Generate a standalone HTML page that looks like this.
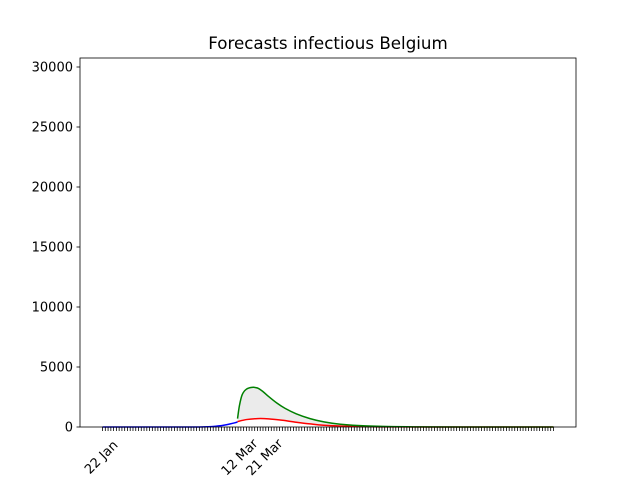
<!DOCTYPE html>
<html><head><meta charset="utf-8"><style>
body{margin:0;background:#fff}
svg{font-family:"DejaVu Sans","Liberation Sans",sans-serif}
</style></head><body>
<svg id="chart" width="640" height="480" viewBox="0 0 640 480">
<rect width="640" height="480" fill="#fff"/>
<text x="328" y="49" font-size="16.7" text-anchor="middle">Forecasts infectious Belgium</text>
<g id="plot"></g>
<rect x="80" y="58" width="496" height="369" fill="none" stroke="#000" stroke-width="0.8"/>
</svg>
<script>
const blueDays=[0,10,20,30,35,38,40,42,44,46,48,48.8];
const blueVals=[0,0,0,0,5,20,40,90,160,250,360,420];
const greenDays=[48.8,49.5,50.5,52,54,56,58,60,63,66,70,75,80,86,95,110,130,163];
const greenVals=[700,1800,2700,3150,3300,3250,2950,2550,2000,1550,1100,700,430,230,90,20,5,0];
const redDays=[48.8,52,56,60,65,70,75,80,90,100,120,163];
const redVals=[450,620,700,680,560,400,260,150,50,15,3,0];
const yTicks=[0,5000,10000,15000,20000,25000,30000];
const xLabels=[[0,"22 Jan"],[50,"12 Mar"],[59,"21 Mar"]];
const nDays=163;
const X0=80,X1=576,Y0=427,Y1=58,xmin=-8.15,xmax=171.15,ymin=0,ymax=30750;
const sx=d=>X0+(d-xmin)/(xmax-xmin)*(X1-X0);
const sy=v=>Y0-(v-ymin)/(ymax-ymin)*(Y0-Y1);
const NS="http://www.w3.org/2000/svg";
const g=document.getElementById('plot');
function el(t,a){const e=document.createElementNS(NS,t);for(const k in a)e.setAttribute(k,a[k]);g.appendChild(e);return e;}
function pts(ds,vs){return ds.map((d,i)=>[sx(d),sy(vs[i])]);}
function smooth(p){let s="M"+p[0][0]+","+p[0][1];for(let i=0;i<p.length-1;i++){const a=p[i-1]||p[i],b=p[i],c=p[i+1],d=p[i+2]||c;
s+=" C"+(b[0]+(c[0]-a[0])/6)+","+(b[1]+(c[1]-a[1])/6)+" "+(c[0]-(d[0]-b[0])/6)+","+(c[1]-(d[1]-b[1])/6)+" "+c[0]+","+c[1];}return s;}
const gp=pts(greenDays,greenVals),rp=pts(redDays,redVals).reverse();
const fill=el('path',{d:smooth(gp)+" L"+rp[0][0]+","+rp[0][1]+smooth(rp).replace(/^M[^ C]+/,"")+" Z",fill:"#ebebeb",stroke:"none"});


const b=el('path',{d:smooth(pts(blueDays,blueVals)),fill:"none",stroke:"#0000ff","stroke-width":1.5});


const r=el('path',{d:smooth(pts(redDays,redVals)),fill:"none",stroke:"#ff0000","stroke-width":1.5});


const gr=el('path',{d:smooth(gp),fill:"none",stroke:"#008000","stroke-width":1.5});


yTicks.forEach(v=>{const y=sy(v);
const t=el('line',{x1:76.5,x2:80,y1:y,y2:y,stroke:"#000","stroke-width":0.8});


const l=el('text',{x:73,y:y+4.5,"font-size":13,"text-anchor":"end"});l.textContent=v;

});
for(let d=0;d<=nDays;d++){const x=sx(d);
const t=el('line',{x1:x,x2:x,y1:427,y2:431,stroke:"#000","stroke-width":0.8});

}
xLabels.forEach(([d,s])=>{const x=sx(d)-1.5,y=457;
const l=el('text',{x:x,y:y+4.5,"font-size":13,"text-anchor":"middle",transform:`rotate(-45 ${x} ${y})`});l.textContent=s;

});
</script>
</body></html>
